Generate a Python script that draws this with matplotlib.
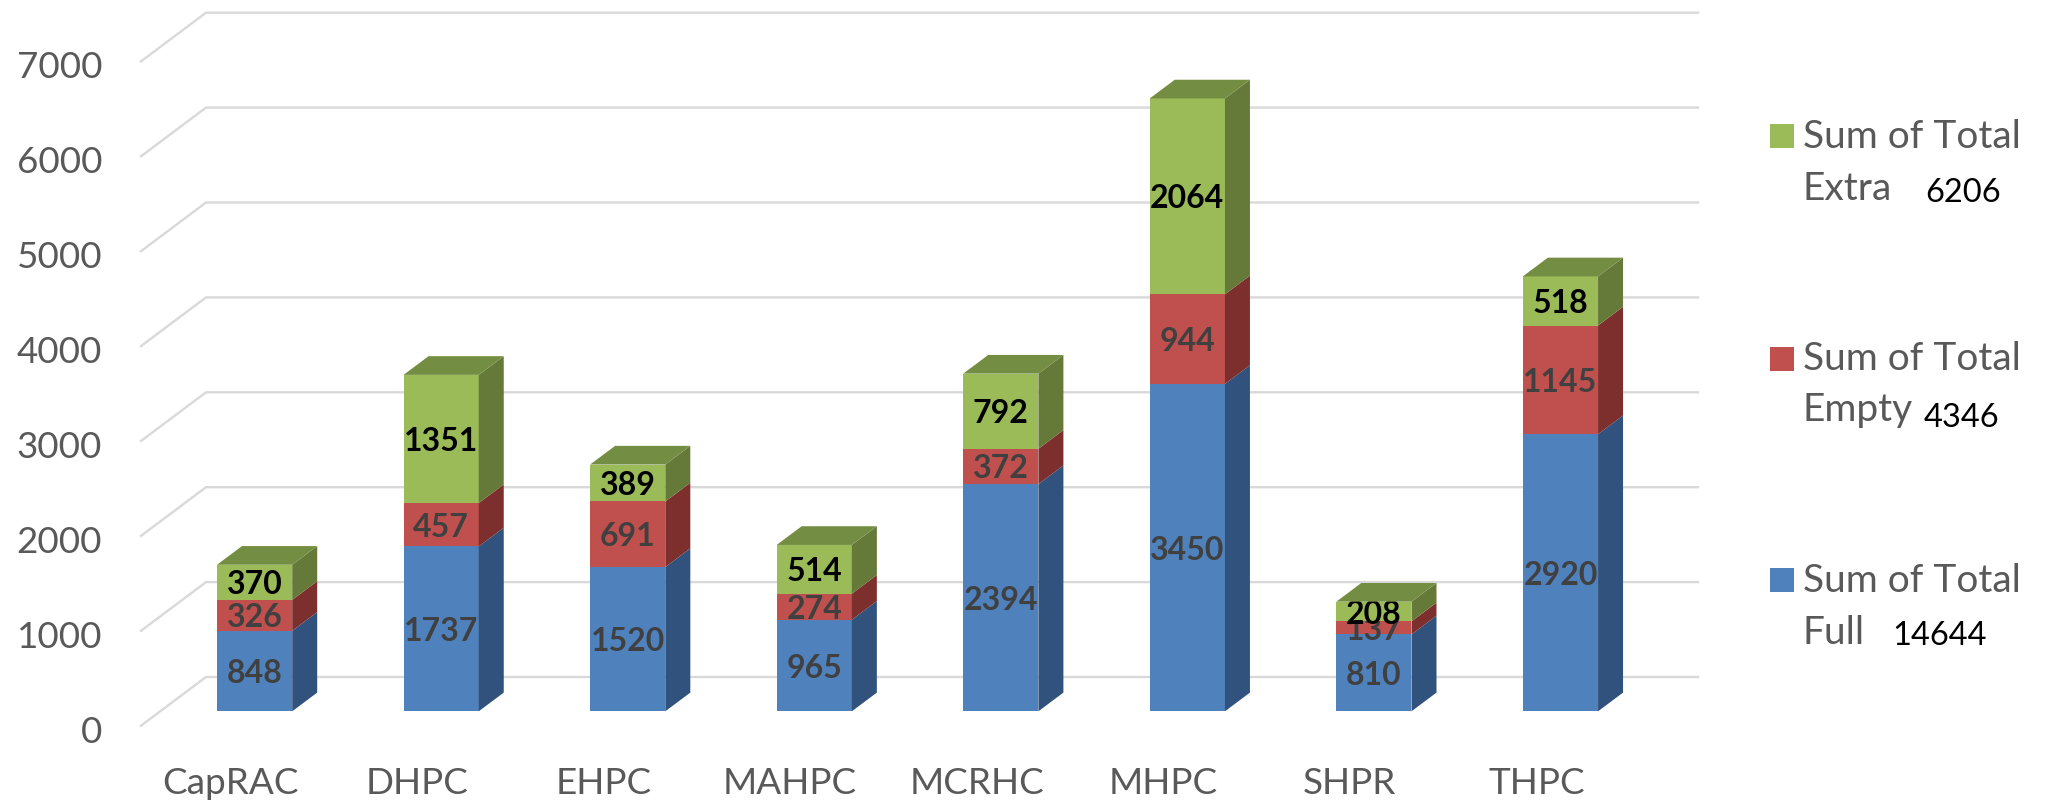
import matplotlib
matplotlib.use("Agg")
import matplotlib.pyplot as plt
from matplotlib.patches import Polygon, Rectangle
from matplotlib.transforms import ScaledTranslation

plt.rcParams['font.family'] = ['Lato', 'DejaVu Sans']

categories = ['CapRAC', 'DHPC', 'EHPC', 'MAHPC', 'MCRHC', 'MHPC', 'SHPR', 'THPC']
full = [848, 1737, 1520, 965, 2394, 3450, 810, 2920]
empty = [326, 457, 691, 274, 372, 944, 137, 1145]
extra = [370, 1351, 389, 514, 792, 2064, 208, 518]
yticks = [0, 1000, 2000, 3000, 4000, 5000, 6000, 7000]
legend_items = [('Sum of Total', 'Extra', '6206'),
                ('Sum of Total', 'Empty', '4346'),
                ('Sum of Total', 'Full', '14644')]

W, H = 2048, 808
fig = plt.figure(figsize=(W / 100, H / 100), dpi=100, facecolor='white')

AX_L, AX_R, AX_T, AX_B = 141, 1698, 12.7, 725.7
ax = fig.add_axes([AX_L / W, 1 - AX_B / H, (AX_R - AX_L) / W, (AX_B - AX_T) / H])
PX_X, PX_Y = 186.55, 0.0949  # pixels per category, pixels per value unit
ZERO_X, ZERO_Y = 254.6, 711.3
ax.set_xlim((AX_L - ZERO_X) / PX_X, (AX_R - ZERO_X) / PX_X)
ax.set_ylim((ZERO_Y - AX_B) / PX_Y, (ZERO_Y - AX_T) / PX_Y)
for s in ax.spines.values():
    s.set_visible(False)

GRID = '#D9D9D9'
TXT = '#595959'
floor_y = ax.get_ylim()[0]
back_dx = (206 - AX_L) / PX_X
back_dy = (ZERO_Y - 677) / PX_Y
x0 = ax.get_xlim()[0]
x1 = ax.get_xlim()[1]
for v in yticks:
    ax.plot([x0, x0 + back_dx, x1], [v + floor_y, v + back_dy, v + back_dy],
            color=GRID, lw=1.7, zorder=1, clip_on=False, solid_joinstyle='miter')

ax.set_yticks([v + floor_y for v in yticks])
ax.set_yticklabels([str(v) for v in yticks], fontsize=26.5, color=TXT)
ax.tick_params(axis='y', length=0, pad=28)
shift = ScaledTranslation(0, -3.5 / 100, fig.dpi_scale_trans)
for lab in ax.get_yticklabels():
    lab.set_transform(lab.get_transform() + shift)
ax.set_xticks([i - 0.129 for i in range(len(categories))])
ax.set_xticklabels(categories, fontsize=26.6, color=TXT)
ax.tick_params(axis='x', length=0, pad=29.5)

bw = 75.2 / PX_X
dx = 25 / PX_X
dy = 18.7 / PX_Y
series = [(full, '#4F81BD', '#31527C', '#404040'),
          (empty, '#C0504D', '#7D2F2D', '#404040'),
          (extra, '#9BBB59', '#657A38', 'black')]
z = 2
for i in range(len(categories)):
    base = 0
    for vals, front, side, lab in series:
        v = vals[i]
        ax.bar(i, v, width=bw, bottom=base, color=front, zorder=z)
        xr = i + bw / 2
        ax.add_patch(Polygon([(xr, base), (xr + dx, base + dy), (xr + dx, base + v + dy), (xr, base + v)],
                             closed=True, facecolor=side, edgecolor='none', zorder=z))
        ax.text(i, base + v / 2, str(v), ha='center', va='center_baseline', fontsize=23,
                fontweight='bold', color=lab, zorder=z + 0.5)
        base += v
        z += 1
    xl = i - bw / 2
    xr = i + bw / 2
    ax.add_patch(Polygon([(xl, base), (xr, base), (xr + dx, base + dy), (xl + dx, base + dy)],
                         closed=True, facecolor='#738E42', edgecolor='none', zorder=z))
    z += 1

# legend, pixel positions converted to figure fractions
swatch_tops = [124, 346.7, 568]
swatch_colors = ['#9BBB59', '#C0504D', '#4F81BD']
line1_base = [148, 370, 592]
line2_base = [200, 421, 644]
num_x = [1925, 1924, 1892]
num_base = [202, 427, 645]
for k, (a, b, n) in enumerate(legend_items):
    fig.patches.append(Rectangle((1770 / W, 1 - (swatch_tops[k] + 24) / H), 24 / W, 24 / H,
                                 transform=fig.transFigure, facecolor=swatch_colors[k], edgecolor='none'))
    fig.text(1803 / W, 1 - line1_base[k] / H, a, fontsize=28, color=TXT, va='baseline', ha='left')
    fig.text(1803 / W, 1 - line2_base[k] / H, b, fontsize=28, color=TXT, va='baseline', ha='left')
    fig.text(num_x[k] / W, 1 - num_base[k] / H, n, fontsize=23.5, color='black', va='baseline', ha='left')

fig.savefig('out.png', dpi=100)
